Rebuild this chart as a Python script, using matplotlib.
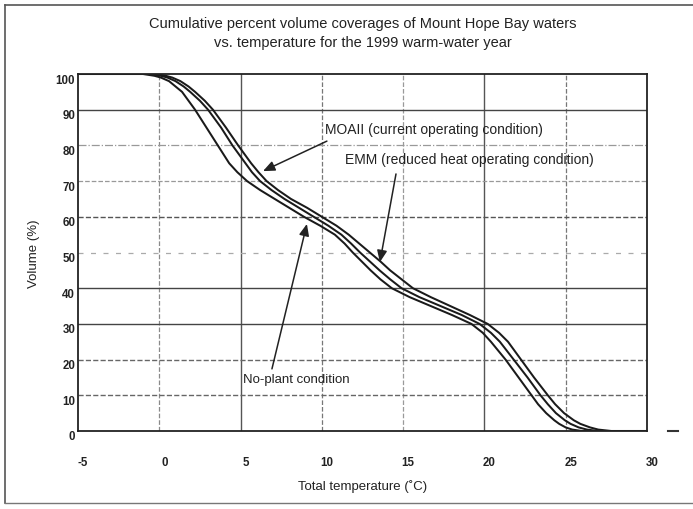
import matplotlib
matplotlib.use('Agg')
import matplotlib.pyplot as plt
from matplotlib.transforms import ScaledTranslation
from matplotlib.lines import Line2D

# ---- data ----
volume_levels = [100, 100, 99.5, 99, 98, 96.5, 95, 92.5, 90, 85, 80, 75, 72.5,
                 70, 67.5, 65, 62.5, 60, 57.5, 55, 52.5, 50, 47.5, 45, 42.5,
                 40, 37.5, 35, 32.5, 30, 27.5, 25, 20, 15, 10, 7.5, 5, 3, 2,
                 1, 0.4, 0, 0]
temp_no_plant = [-5, -1.0, -0.3, 0.1, 0.6, 1.0, 1.4, 1.8, 2.2, 2.9, 3.6, 4.3,
                 4.8, 5.4, 6.2, 7.1, 8.0, 8.9, 9.9, 10.8, 11.4, 11.9, 12.45,
                 13.0, 13.6, 14.3, 15.4, 16.7, 18.0, 19.2, 19.9, 20.4, 21.3,
                 22.1, 22.9, 23.3, 23.8, 24.3, 24.6, 25.0, 25.4, 26.0, 30]
temp_emm = [-5, -0.5, 0.1, 0.5, 1.0, 1.5, 1.9, 2.5, 3.0, 3.8, 4.5, 5.3, 5.7,
            6.2, 6.9, 7.7, 8.6, 9.5, 10.4, 11.2, 11.8, 12.35, 12.95, 13.55,
            14.2, 14.9, 16.0, 17.3, 18.6, 19.7, 20.4, 20.95, 21.8, 22.65,
            23.45, 23.9, 24.4, 24.95, 25.3, 25.8, 26.3, 27.0, 30]
temp_moaii = [-5, -0.2, 0.4, 0.8, 1.3, 1.8, 2.2, 2.8, 3.3, 4.1, 4.85, 5.65,
              6.1, 6.6, 7.3, 8.1, 9.1, 10.0, 10.9, 11.65, 12.3, 12.95, 13.6,
              14.2, 14.9, 15.6, 16.7, 17.9, 19.1, 20.2, 20.9, 21.45, 22.25,
              23.05, 23.9, 24.35, 24.9, 25.5, 25.9, 26.5, 27.0, 27.8, 30]

x_ticks = [-5, 0, 5, 10, 15, 20, 25, 30]
y_ticks = [0, 10, 20, 30, 40, 50, 60, 70, 80, 90, 100]
x_grid = [0, 5, 10, 15, 20, 25]
y_grid = [10, 20, 30, 40, 50, 60, 70, 80, 90]

title = ("Cumulative percent volume coverages of Mount Hope Bay waters\n"
         "vs. temperature for the 1999 warm-water year")
x_label = "Total temperature (\u02daC)"
y_label = "Volume (%)"
label_moaii = "MOAII (current operating condition)"
label_emm = "EMM (reduced heat operating condition)"
label_noplant = "No-plant condition"

# ---- styles ----
x_grid_styles = [('--', '#8a8a8a', 0.9), ('-', '#555555', 1.0),
                 ('--', '#777777', 0.9), ('--', '#9a9a9a', 0.9),
                 ('-', '#555555', 1.0), ('--', '#777777', 0.9)]
y_grid_styles = [('--', '#666666', 1.0), ('--', '#666666', 1.0),
                 ('-', '#444444', 1.0), ('-', '#444444', 1.0),
                 ((0, (4, 6)), '#aaaaaa', 0.9), ('--', '#555555', 1.0),
                 ('--', '#999999', 0.9), ('-.', '#999999', 0.9),
                 ('-', '#444444', 1.0)]

plt.rcParams['font.family'] = ['Liberation Sans', 'DejaVu Sans']

fig = plt.figure(figsize=(6.93, 5.10), dpi=100)
fig.patch.set_facecolor('white')
ax = fig.add_axes([78 / 693, 78 / 510, 569 / 693, 357 / 510])

for xv, (ls, c, lw) in zip(x_grid, x_grid_styles):
    ax.axvline(xv, linestyle=ls, color=c, linewidth=lw, zorder=1)
for yv, (ls, c, lw) in zip(y_grid, y_grid_styles):
    ax.axhline(yv, linestyle=ls, color=c, linewidth=lw, zorder=1)

curve_kw = dict(color='#1a1a1a', linewidth=1.45, solid_joinstyle='round',
                solid_capstyle='round', zorder=3)
ax.plot(temp_no_plant, volume_levels, **curve_kw)
ax.plot(temp_emm, volume_levels, **curve_kw)
ax.plot(temp_moaii, volume_levels, **curve_kw)

ax.set_xlim(-5, 30)
ax.set_ylim(0, 100)
ax.set_xticks(x_ticks)
ax.set_yticks(y_ticks)
ax.set_xticklabels([str(v) for v in x_ticks])
ax.set_yticklabels([str(v) for v in y_ticks])
ax.tick_params(axis='x', length=0, pad=18, labelsize=8.3, colors='#222222')
ax.tick_params(axis='y', length=0, pad=2, labelsize=8.3, colors='#222222')
for lab in ax.get_xticklabels():
    lab.set_fontweight('bold')
    lab.set_transform(lab.get_transform() + ScaledTranslation(0.05, 0, fig.dpi_scale_trans))
for lab in ax.get_yticklabels():
    lab.set_fontweight('bold')
    lab.set_transform(lab.get_transform() + ScaledTranslation(0, -0.04, fig.dpi_scale_trans))

for sp in ax.spines.values():
    sp.set_linewidth(1.3)
    sp.set_color('#222222')
    sp.set_zorder(4)

ax.set_title(title, fontsize=10.5, color='#222222', pad=20, linespacing=1.45)
ax.set_xlabel(x_label, fontsize=9.5, color='#222222', labelpad=8)
ax.set_ylabel(y_label, fontsize=9.5, color='#222222', labelpad=11)

arrow_kw = dict(arrowstyle='-|>,head_length=0.7,head_width=0.3',
                color='#222222', lw=1.1, shrinkA=0, shrinkB=0)
ax.text(10.19, 84.6, label_moaii, fontsize=10, va='center', ha='left',
        color='#222222', zorder=5)
ax.annotate('', xy=(6.38, 72.8), xytext=(10.31, 81.2), arrowprops=arrow_kw, zorder=5)
ax.text(11.42, 76.2, label_emm, fontsize=10, va='center', ha='left',
        color='#222222', zorder=5)
ax.annotate('', xy=(13.57, 47.3), xytext=(14.56, 72.0), arrowprops=arrow_kw, zorder=5)
ax.text(5.15, 14.6, label_noplant, fontsize=9.5, va='center', ha='left',
        color='#222222', zorder=5)
ax.annotate('', xy=(9.08, 58.0), xytext=(6.93, 17.4), arrowprops=arrow_kw, zorder=5)

# outer frame of the scanned figure and the stray dash at right
fig.add_artist(Line2D([5 / 693, 5 / 693], [1 - 504 / 510, 1 - 6 / 510],
                      transform=fig.transFigure, color='#555555', lw=1.2))
fig.add_artist(Line2D([5 / 693, 1.0], [1 - 6 / 510, 1 - 6 / 510],
                      transform=fig.transFigure, color='#555555', lw=1.2))
fig.add_artist(Line2D([5 / 693, 1.0], [1 - 504 / 510, 1 - 504 / 510],
                      transform=fig.transFigure, color='#777777', lw=1.0))
fig.add_artist(Line2D([668 / 693, 678 / 693], [1 - 432 / 510, 1 - 432 / 510],
                      transform=fig.transFigure, color='#333333', lw=1.5))

fig.savefig('out.png', dpi=100, facecolor='white')
